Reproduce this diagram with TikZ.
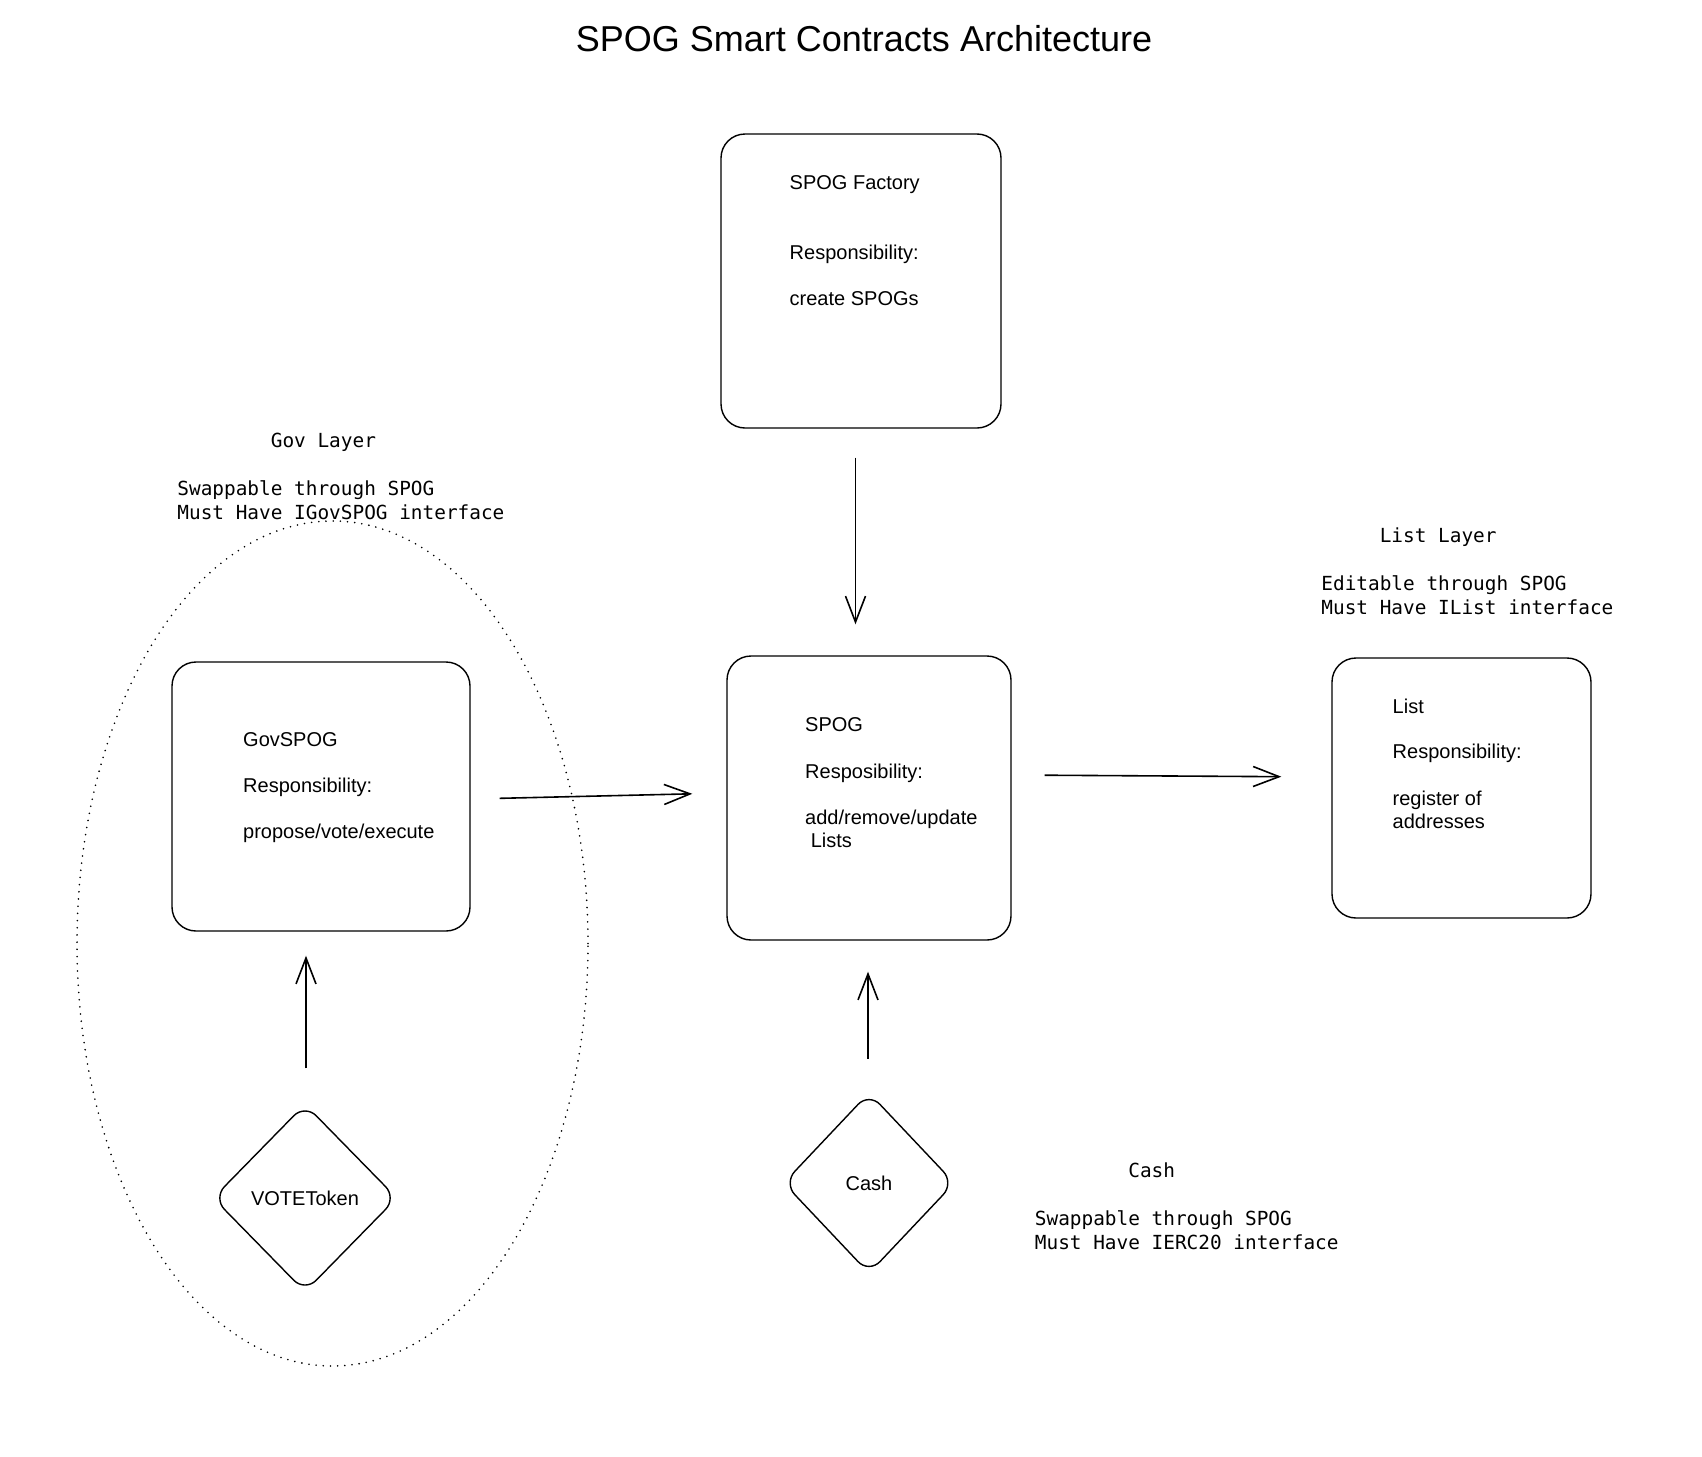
\documentclass[tikz,border=0pt]{standalone}
\usepackage{fontspec}
\setmainfont{Liberation Sans}
\setmonofont{DejaVu Sans Mono}
\colorlet{colorLine}{black}
\usetikzlibrary{arrows.meta, shapes.geometric, positioning, calc}
\tikzset{
  contract/.style={draw=colorLine, rounded corners=12pt, line width=0.7pt, inner sep=0pt},
  token/.style={draw=colorLine, diamond, rounded corners=8pt, line width=0.7pt, inner sep=0pt, font=\fontsize{10}{11.5}\selectfont},
  boxtext/.style={anchor=north west, inner sep=0pt, align=left, font=\fontsize{10}{11.5}\selectfont},
  layernote/.style={anchor=north west, inner sep=0pt, align=left, font=\ttfamily\fontsize{9.7}{12}\selectfont},
  govzone/.style={draw=colorLine, line width=0.9pt, line cap=round, dash pattern=on 0pt off 3.6pt},
  link/.style={->, draw=colorLine, line width=0.8pt},
}
\begin{document}
\begin{tikzpicture}[x=0.5pt, y=-0.5pt, >={Straight Barb[length=13pt,width=10pt]}]
\useasboundingbox (0,0) rectangle (1702,1456);
\node[font=\fontsize{18}{21}\selectfont] (title) at (864,39) {SPOG Smart Contracts Architecture};

% contracts
\node[contract, minimum width=140pt, minimum height=147pt] (factory) at (861,281) {};
\node[contract, minimum width=149pt, minimum height=134.5pt] (gov) at (321,796.5) {};
\node[contract, minimum width=142pt, minimum height=142pt] (spog) at (869,798) {};
\node[contract, minimum width=129.5pt, minimum height=130pt] (list) at (1461.5,788) {};
\node[token, minimum width=92pt, minimum height=94pt] (vote) at (305,1198) {VOTEToken};
\node[token, minimum width=85.5pt, minimum height=90.5pt] (cash) at (869,1183) {Cash};

\node[boxtext] (factorytext) at ($(factory.north west)+(69,42)$) {SPOG Factory\\[23.5pt]Responsibility:\\[11.5pt]create SPOGs};
\node[boxtext] (govtext) at ($(gov.north west)+(71.5,70.5)$) {GovSPOG\\[11.5pt]Responsibility:\\[11.5pt]propose/vote/execute};
\node[boxtext] (spogtext) at ($(spog.north west)+(78.5,61.5)$) {SPOG\\[12pt]Resposibility:\\[11.5pt]add/remove/update\\\hspace*{0.28em}Lists};
\node[boxtext] (listtext) at ($(list.north west)+(61,41.5)$) {List\\[11pt]Responsibility:\\[12pt]register of\\addresses};

% layers
\draw[govzone] (332.5,943.5) ellipse [x radius=127.75pt, y radius=211.25pt];
\node[layernote] (govnote) at (177,433) {\hphantom{00000000}Gov Layer\\[12pt]Swappable through SPOG\\Must Have IGovSPOG interface};
\node[layernote] (listnote) at (1321,527) {\hphantom{00000}List Layer\\[12pt]Editable through SPOG\\Must Have IList interface};
\node[layernote] (cashnote) at (1034.5,1162) {\hphantom{00000000}Cash\\[12pt]Swappable through SPOG\\Must Have IERC20 interface};

% links
\draw[link, shorten <=14.5pt, shorten >=15.5pt] ([xshift=-2.75pt]factory.south) -- ([xshift=-6.75pt]spog.north);
\draw[link, shorten <=14.5pt, shorten >=17pt] ([yshift=-1.25pt]gov.east) -- ([yshift=2.5pt]spog.west);
\draw[link, shorten <=16.5pt, shorten >=25pt] ([yshift=11.5pt]spog.east) -- ([yshift=5.5pt]list.west);
\draw[link, shorten <=17.5pt, shorten >=12pt] ([xshift=0.5pt]vote.north) -- ([xshift=-7.5pt]gov.south);
\draw[link, shorten <=16.5pt, shorten >=15.5pt] ([xshift=-0.5pt]cash.north) -- ([xshift=-0.5pt]spog.south);
\end{tikzpicture}
\end{document}
